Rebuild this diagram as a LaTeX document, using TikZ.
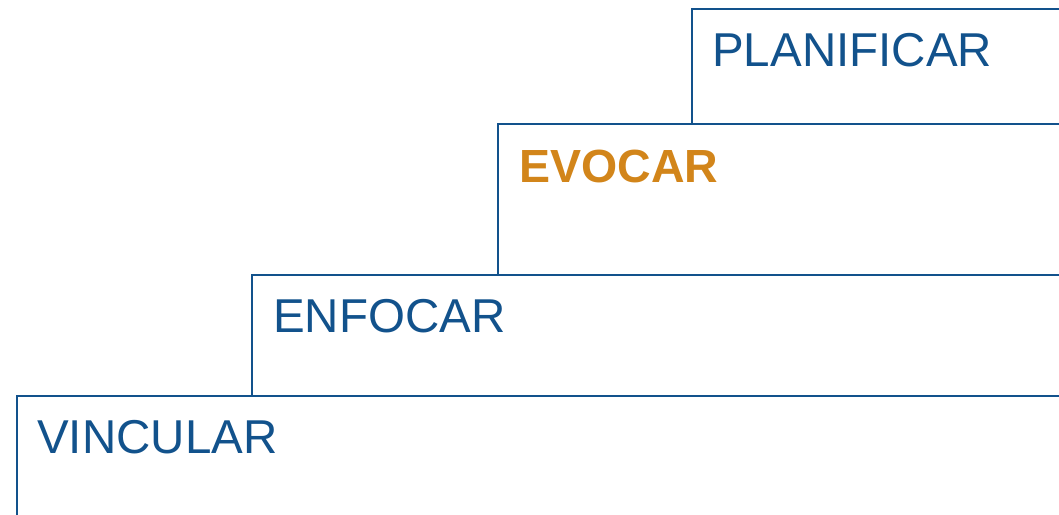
\documentclass[tikz,border=0pt]{standalone}
\usepackage{fontspec}
\setmainfont{Liberation Sans}
\definecolor{stairblue}{RGB}{18,82,140}
\definecolor{stairorange}{RGB}{210,133,26}
\begin{document}
\begin{tikzpicture}[x=1pt,y=-1pt,line width=2.5pt,
  stair/.style={draw=stairblue},
  word/.style={anchor=base west,inner sep=0pt,text=stairblue,font=\fontsize{47.5}{50}\selectfont}]
\useasboundingbox (0,0) rectangle (1059,514);
\clip (0,0) rectangle (1059,514);
\draw[stair] (17,396) rectangle (1080,540);
\draw[stair] (252,275) rectangle (1080,396);
\draw[stair] (498,124) rectangle (1080,275);
\draw[stair] (692,9) rectangle (1080,124);
\node[word] (vincular) at (36,453) {VINCULAR};
\node[word] (enfocar) at (272,332) {ENFOCAR};
\node[word,text=stairorange,font=\fontsize{46.5}{50}\selectfont\bfseries] (evocar) at (518,182) {EVOCAR};
\node[word] (planificar) at (711,66) {PLANIFICAR};
\end{tikzpicture}
\end{document}
